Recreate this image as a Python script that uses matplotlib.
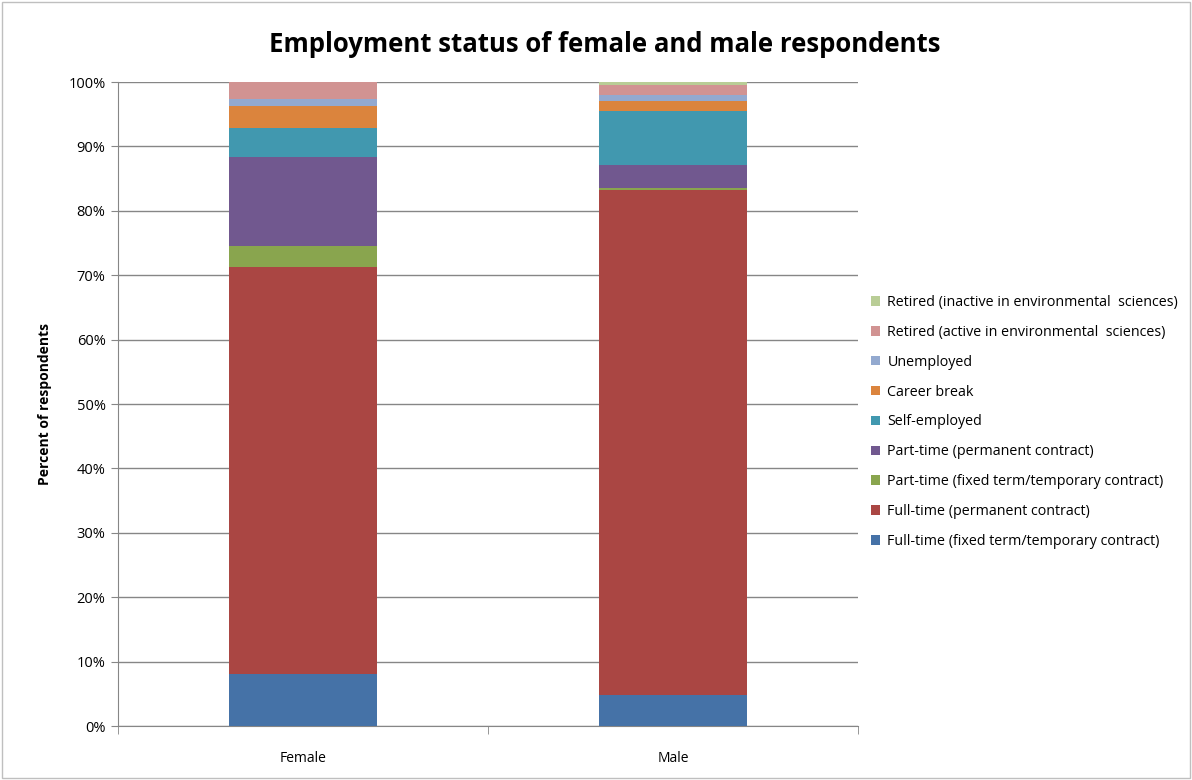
import numpy as np
import matplotlib.pyplot as plt
from matplotlib.patches import Patch, Rectangle
from matplotlib.ticker import PercentFormatter

groups = ['Female', 'Male']
statuses = ['Full-time (fixed term/temporary contract)',
            'Full-time (permanent contract)',
            'Part-time (fixed term/temporary contract)',
            'Part-time (permanent contract)',
            'Self-employed',
            'Career break',
            'Unemployed',
            'Retired (active in environmental  sciences)',
            'Retired (inactive in environmental  sciences)']
female = [8.1, 63.1, 3.4, 13.7, 4.5, 3.5, 1.0, 2.7, 0.0]
male = [4.8, 78.4, 0.3, 3.6, 8.4, 1.5, 1.0, 1.5, 0.5]
colors = ['#4572A7', '#AA4643', '#89A54E', '#71588F', '#4198AF',
          '#DB843D', '#93A9CF', '#D19392', '#B9CD96']

plt.rcParams['font.family'] = ['Open Sans', 'DejaVu Sans']

fig = plt.figure(figsize=(11.92, 7.80), dpi=100)
ax = fig.add_axes([118 / 1192, 1 - 726 / 780, 740 / 1192, 644 / 780])

# figure border
fig.patches.append(Rectangle((0.002, 0.002), 0.996, 0.996, transform=fig.transFigure,
                             fill=False, edgecolor='#BFBFBF', linewidth=1))

data = np.array([female, male])
x = np.arange(len(groups))
bottom = np.zeros(len(groups))
for i, name in enumerate(statuses):
    ax.bar(x, data[:, i], width=0.4, bottom=bottom, color=colors[i],
           edgecolor='none', zorder=3)
    bottom += data[:, i]

ax.set_xlim(-0.5, 1.5)
ax.set_ylim(0, 100)
ax.set_yticks(np.arange(0, 101, 10))
ax.yaxis.set_major_formatter(PercentFormatter(decimals=0))
ax.yaxis.grid(True, color='#868686', linewidth=1, zorder=0)
ax.set_xticks(x)
ax.set_xticklabels(groups)
ax.set_xticks([-0.5, 0.5, 1.5], minor=True)
ax.tick_params(axis='x', which='major', length=0, pad=18, labelsize=10)
ax.tick_params(axis='x', which='minor', length=6, color='#868686')
ax.tick_params(axis='y', length=5, color='#868686', labelsize=10.5, pad=4)
for side in ['top', 'right']:
    ax.spines[side].set_visible(False)
for side in ['left', 'bottom']:
    ax.spines[side].set_color('#868686')

ax.set_ylabel('Percent of respondents', fontsize=10, fontweight='bold', labelpad=12)

fig.text(605 / 1192, 1 - 45 / 780, 'Employment status of female and male respondents',
         ha='center', va='center', fontsize=18.5, fontweight='bold')

handles = [Patch(facecolor=c, edgecolor='none') for c in colors]
fig.legend(handles[::-1], statuses[::-1], loc='center left',
           bbox_to_anchor=(858 / 1192, 1 - 422 / 780), frameon=False,
           fontsize=10.3, handlelength=0.65, handleheight=0.65, handletextpad=0.5,
           labelspacing=1.04)

fig.savefig('out.png', dpi=100)
